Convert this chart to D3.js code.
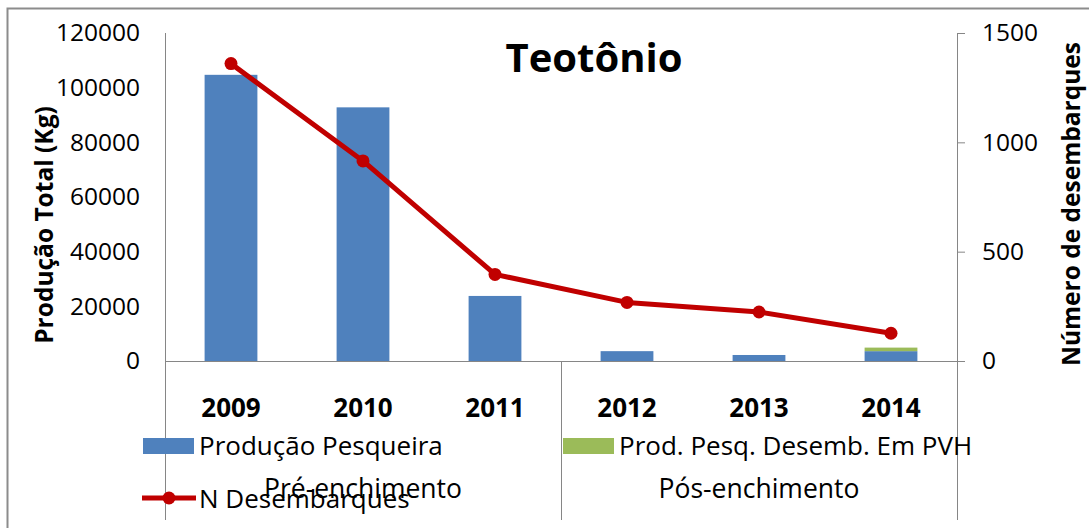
<!DOCTYPE html>
<html>
<head>
<meta charset="utf-8">
<script src="https://cdn.jsdelivr.net/npm/d3@7"></script>
<style>
  html, body { margin: 0; padding: 0; background: #fff; }
  svg { display: block; font-family: "Open Sans", "Noto Sans", sans-serif; }
</style>
</head>
<body>
<svg id="chart" width="1089" height="528"></svg>
<script>
// Fishing production and landings at Teotônio, 2009–2014
const years = ["2009", "2010", "2011", "2012", "2013", "2014"];
const producaoPesqueira = [104700, 92800, 23800, 3600, 2200, 3600];
const prodPesqDesembPVH = [0, 0, 0, 0, 0, 1300];
const nDesembarques = [1360, 915, 396, 268, 224, 127];
const phaseNames = ["Pré-enchimento", "Pós-enchimento"];
const phaseYears = [["2009", "2010", "2011"], ["2012", "2013", "2014"]];
const leftTicks = [0, 20000, 40000, 60000, 80000, 100000, 120000];
const rightTicks = [0, 500, 1000, 1500];
const seriesNames = ["Produção Pesqueira", "Prod. Pesq. Desemb. Em PVH", "N Desembarques"];

const BLUE = "#4F81BD", GREEN = "#9BBB59", RED = "#C00000", GRID = "#868686";

const svg = d3.select("#chart");
const plot = { left: 165, right: 957, top: 33, bottom: 361 };

// outer chart frame
svg.append("rect")
  .attr("x", 7.5).attr("y", 8.5).attr("width", 1200).attr("height", 600)
  .attr("fill", "#fff").attr("stroke", "#8c8c8c").attr("stroke-width", 2);

const x = d3.scaleBand().domain(years).range([plot.left, plot.right])
  .paddingInner(0.6).paddingOuter(0.3);
const yLeft = d3.scaleLinear().domain([0, 120000]).range([plot.bottom, plot.top]);
const yRight = d3.scaleLinear().domain([0, 1500]).range([plot.bottom, plot.top]);

// stacked bars
const rows = years.map((yr, i) => ({ year: yr, producao: producaoPesqueira[i], pvh: prodPesqDesembPVH[i] }));
const stack = d3.stack().keys(["producao", "pvh"])(rows);
const colors = { producao: BLUE, pvh: GREEN };
svg.append("g").selectAll("g").data(stack).join("g")
  .attr("fill", s => colors[s.key])
  .selectAll("rect").data(s => s.filter(d => d[1] > d[0])).join("rect")
  .attr("x", d => x(d.data.year))
  .attr("width", x.bandwidth())
  .attr("y", d => yLeft(d[1]))
  .attr("height", d => yLeft(d[0]) - yLeft(d[1]));

// left axis (line only, labels right-aligned)
const leftAxis = d3.axisLeft(yLeft).tickValues(leftTicks).tickSize(0).tickPadding(25)
  .tickFormat(d3.format("d"));
const gl = svg.append("g").attr("transform", `translate(${plot.left},0)`).call(leftAxis);
gl.select(".domain").remove();
gl.selectAll("text").attr("font-size", 24.5).attr("fill", "#000")
  .attr("font-family", "'Open Sans', sans-serif");

// right axis with outward ticks
const rightAxis = d3.axisRight(yRight).tickValues(rightTicks).tickSizeInner(8).tickSizeOuter(0)
  .tickPadding(17).tickFormat(d3.format("d"));
const gr = svg.append("g").attr("transform", `translate(${plot.right},0)`).call(rightAxis);
gr.select(".domain").remove();
gr.selectAll("line").attr("stroke", GRID);
gr.selectAll("text").attr("font-size", 24.5).attr("fill", "#000")
  .attr("font-family", "'Open Sans', sans-serif");

// vertical axis lines extended down through the category area
const axisBottom = 520;
const step = x.step();
const groupBounds = phaseYears.map(g => [
  x(g[0]) + x.bandwidth() / 2 - step / 2,
  x(g[g.length - 1]) + x.bandwidth() / 2 + step / 2
]);
const sepX = [plot.left, groupBounds[0][1], plot.right];
svg.append("g").selectAll("line").data(sepX).join("line")
  .attr("x1", d => Math.round(d) + 0.5).attr("x2", d => Math.round(d) + 0.5)
  .attr("y1", (d, i) => (i === 1 ? plot.bottom : plot.top))
  .attr("y2", axisBottom)
  .attr("stroke", GRID).attr("stroke-width", 1);

// baseline
svg.append("line")
  .attr("x1", plot.left).attr("x2", plot.right + 8)
  .attr("y1", plot.bottom + 0.5).attr("y2", plot.bottom + 0.5)
  .attr("stroke", GRID);

// line series on the secondary axis
const pts = years.map((yr, i) => [x(yr) + x.bandwidth() / 2, yRight(nDesembarques[i])]);
svg.append("path").attr("d", d3.line()(pts))
  .attr("fill", "none").attr("stroke", RED).attr("stroke-width", 5)
  .attr("stroke-linejoin", "round");
svg.append("g").selectAll("circle").data(pts).join("circle")
  .attr("cx", d => d[0]).attr("cy", d => d[1]).attr("r", 6.5).attr("fill", RED);

// year labels
svg.append("g").selectAll("text").data(years).join("text")
  .attr("x", d => x(d) + x.bandwidth() / 2).attr("y", 408).attr("dy", "0.36em")
  .attr("text-anchor", "middle").attr("font-size", 26).attr("font-weight", "bold")
  .text(d => d);

// phase group labels
svg.append("g").selectAll("text").data(phaseNames).join("text")
  .attr("x", (d, i) => (groupBounds[i][0] + groupBounds[i][1]) / 2)
  .attr("y", 488).attr("dy", "0.36em")
  .attr("text-anchor", "middle").attr("font-size", 26.5)
  .text(d => d);

// legend
const lg = svg.append("g");
lg.append("rect").attr("x", 143).attr("y", 438).attr("width", 51).attr("height", 16).attr("fill", BLUE);
lg.append("text").attr("x", 199).attr("y", 446).attr("dy", "0.36em").attr("font-size", 26).text(seriesNames[0]);
lg.append("rect").attr("x", 563).attr("y", 438).attr("width", 51).attr("height", 16).attr("fill", GREEN);
lg.append("text").attr("x", 619).attr("y", 446).attr("dy", "0.36em").attr("font-size", 26).text(seriesNames[1]);
lg.append("line").attr("x1", 142).attr("x2", 196).attr("y1", 498).attr("y2", 498)
  .attr("stroke", RED).attr("stroke-width", 5);
lg.append("circle").attr("cx", 169).attr("cy", 498).attr("r", 6.5).attr("fill", RED);
lg.append("text").attr("x", 199).attr("y", 499).attr("dy", "0.36em").attr("font-size", 26).text(seriesNames[2]);

// title
svg.append("text").attr("x", 594).attr("y", 72)
  .attr("text-anchor", "middle").attr("font-size", 40).attr("font-weight", "bold")
  .text("Teotônio");

// axis titles
svg.append("text").attr("transform", "translate(44,225) rotate(-90)")
  .attr("dy", "0.36em").attr("text-anchor", "middle")
  .attr("font-size", 24.5).attr("font-weight", "bold")
  .text("Produção Total (Kg)");
svg.append("text").attr("transform", "translate(1071,204) rotate(-90)")
  .attr("dy", "0.36em").attr("text-anchor", "middle")
  .attr("font-size", 24.5).attr("font-weight", "bold")
  .text("Número de desembarques");
</script>
</body>
</html>
